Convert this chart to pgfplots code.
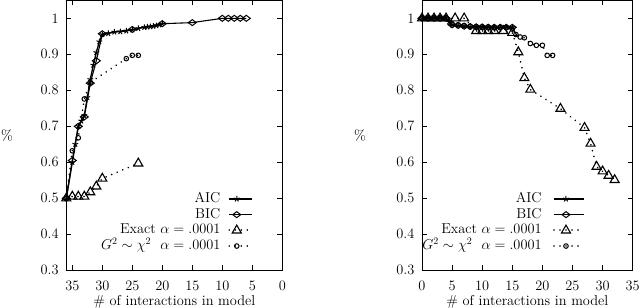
\documentclass[border=0pt]{standalone}
\usepackage{pgfplots}
\pgfplotsset{compat=1.18}
\begin{document}
\begin{tikzpicture}[font=\fontsize{14.4}{16}\selectfont]
\useasboundingbox (0,0) rectangle (640bp,308bp);
\pgfplotsset{
  panel/.style={
    scale only axis, height=270bp, ymin=0.3, ymax=1.05,
    ytick={0.3,0.4,0.5,0.6,0.7,0.8,0.9,1},
    yticklabels={0.3,0.4,0.5,0.6,0.7,0.8,0.9,1},
    xtick={0,5,10,15,20,25,30,35},
    tick align=inside, tick pos=both,
    major tick length=5bp,
    axis line style={line width=0.9bp},
    every tick/.style={line width=0.9bp, black},
    xticklabel style={anchor=base, yshift=-20.5bp},
    yticklabel style={anchor=east, xshift=-4.2bp},
    xlabel={\# of interactions in model},
    xlabel style={at={(axis description cs:0.5,0)}, anchor=base, yshift=-35bp},
    ylabel={\%},
    legend plot pos=right,
    legend cell align=right,
  },
  aic/.style={black, line width=1.3bp, mark=star, mark size=3bp, mark options={solid, fill=none, line width=1bp}},
  bic/.style={black, line width=1.1bp, mark=diamond, mark size=4bp, mark options={solid, fill=none, rotate=90, line width=1bp}},
  exact/.style={black, line width=1.8bp, dash pattern=on 0.01bp off 6bp, line cap=round, mark=triangle, mark size=5.2bp, mark options={solid, fill=none, line width=1.1bp, line cap=butt}},
  gsq/.style={black, line width=1.8bp, dash pattern=on 0.01bp off 6bp, line cap=round, mark=o, mark size=2.3bp, mark options={solid, fill=none, line width=1bp}},
}
% ---------------- left panel ----------------
\begin{axis}[panel, at={(66.3bp,37.7bp)}, anchor=south west, width=216bp,
  x dir=reverse, xmin=0, xmax=36,
  ylabel style={rotate=-90, at={(axis description cs:-0.275,0.5)}, anchor=center},
  legend image code/.code={\draw[mark repeat=2,mark phase=2,#1] plot coordinates {(0bp,0bp) (7.5bp,0bp) (23bp,0bp)};},
  legend style={draw=none, fill=none, at={(axis description cs:0.866,0.065)}, anchor=south east, inner sep=0pt,
    nodes={inner sep=0pt, text height=10bp, text depth=3bp}, row sep=2.7bp, column sep=8bp},
]
\addplot[aic] coordinates {(36,0.5) (35,0.6) (34.5,0.65) (34,0.7) (33.5,0.715) (33,0.73) (32.5,0.78) (32,0.83) (31.5,0.87) (31,0.905) (30.5,0.935) (30,0.955) (29,0.958) (28,0.962) (27,0.963) (26,0.965) (25,0.968) (24,0.972) (23,0.975) (22.5,0.976) (22,0.977) (21.5,0.978) (21,0.98) (20.5,0.982) (20,0.985)};
\addlegendentry{AIC}
\addplot[bic] coordinates {(36,0.5) (35,0.605) (34,0.70) (33,0.726) (32,0.82) (31,0.882) (30,0.957) (25,0.969) (20,0.985) (15,0.988) (10,1.0) (9,1.0) (8,1.0) (7,1.0) (6,1.0)};
\addlegendentry{BIC}
\addplot[exact] coordinates {(36,0.5) (35,0.505) (34,0.505) (33,0.505) (32,0.517) (31,0.533) (30,0.555) (24,0.597)};
\addlegendentry{Exact $\alpha = .0001$}
\addplot[gsq] coordinates {(36,0.5) (35,0.632) (34,0.668) (33,0.776) (32,0.822) (26,0.888) (25,0.897) (24,0.897)};
\addlegendentry{$G^2 \sim \chi^2$ \ $\alpha = .0001$}
\end{axis}
% ---------------- right panel ----------------
\begin{axis}[panel, at={(422bp,37.7bp)}, anchor=south west, width=210.7bp,
  xmin=0, xmax=35,
  ylabel style={rotate=-90, at={(axis description cs:-0.294,0.5)}, anchor=center},
  legend image code/.code={\draw[mark repeat=2,mark phase=2,#1] plot coordinates {(0bp,0bp) (12bp,0bp) (30bp,0bp)};},
  legend style={draw=none, fill=none, at={(axis description cs:0.774,0.065)}, anchor=south east, inner sep=0pt,
    nodes={inner sep=0pt, text height=10bp, text depth=3bp}, row sep=2.7bp, column sep=11.5bp},
]
\addplot[aic] coordinates {(0,1) (0.5,1) (1,1) (1.5,1) (2,1) (2.5,1) (3,1) (3.5,1) (4,1) (4.5,0.99) (5,0.982) (6,0.98) (7,0.978) (8,0.977) (9,0.977) (10,0.976) (11,0.976) (12,0.975) (13,0.975) (14,0.975) (15,0.975)};
\addlegendentry{AIC}
\addplot[bic] coordinates {(0,1) (1,1) (2,1) (3,1) (4,1) (5,0.982) (6,0.98) (7,0.978) (8,0.977) (9,0.976) (10,0.976) (11,0.975) (12,0.975) (13,0.975) (14,0.975) (15,0.975)};
\addlegendentry{BIC}
\addplot[exact] coordinates {(0,1.0) (1,1.0) (2,1.0) (3,1.0) (4,1.0) (5.5,1.0) (7,1.0) (9,0.965) (10,0.965) (11,0.965) (12,0.965) (13.5,0.965) (15,0.96) (16,0.906) (17,0.834) (18,0.802) (23,0.749) (27,0.696) (28,0.652) (29,0.588) (30,0.575) (31,0.563) (32,0.551)};
\addlegendentry{Exact $\alpha = .0001$}
\addplot[gsq] coordinates {(0,1) (1,1) (2,1) (3,1) (4,1) (5,0.985) (6,0.982) (7,0.98) (8,0.978) (9,0.977) (10,0.976) (11,0.976) (12,0.975) (13,0.975) (14,0.974) (15,0.97) (15.6,0.955) (16.3,0.948) (17,0.946) (18,0.93) (19,0.925) (20,0.925) (20.8,0.897) (21.7,0.897)};
\addlegendentry{$G^2 \sim \chi^2$ \ $\alpha = .0001$}
\end{axis}
\end{tikzpicture}
\end{document}
